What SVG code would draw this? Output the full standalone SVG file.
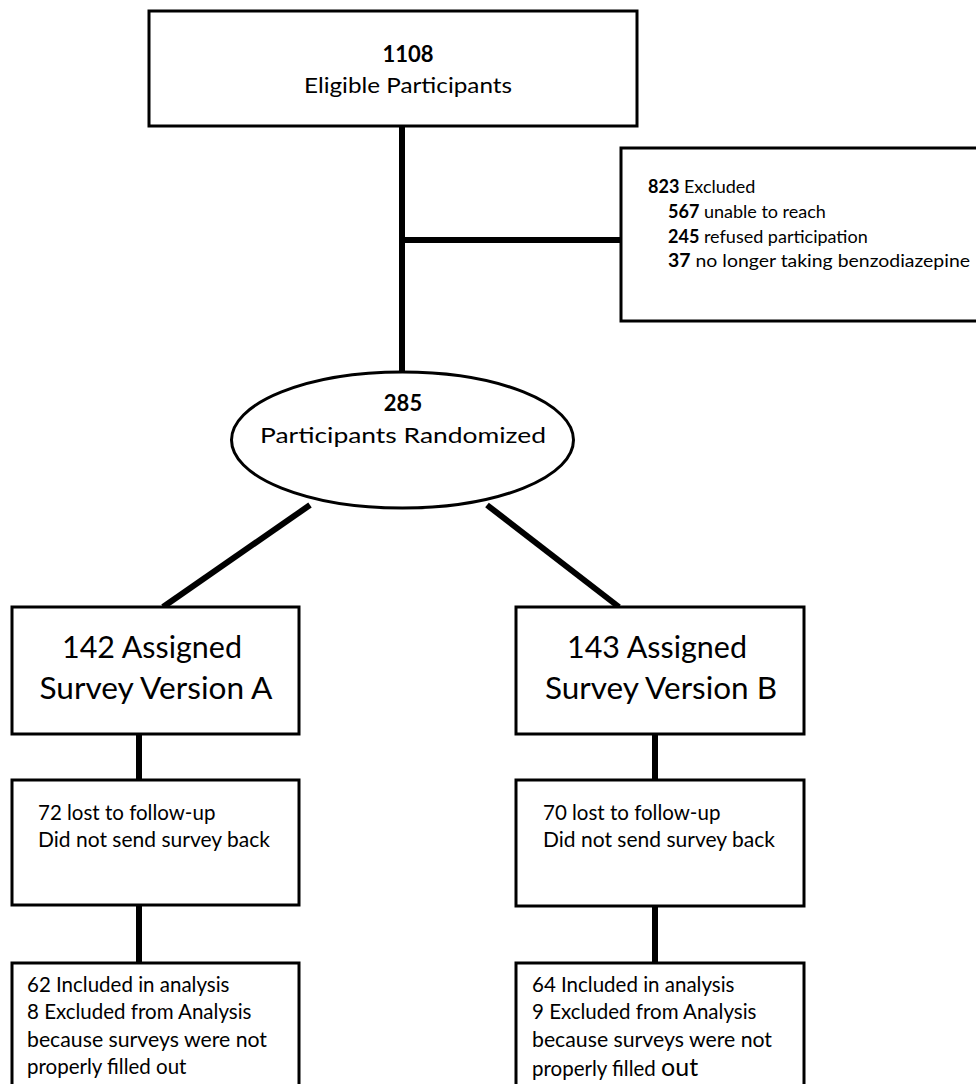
<svg xmlns="http://www.w3.org/2000/svg" width="976" height="1084" viewBox="0 0 976 1084">
<style>
.box{fill:#fff;stroke:#000;stroke-width:3}
.conn line{stroke:#000;stroke-width:6}
text{font-family:Lato,"Open Sans","Liberation Sans",sans-serif;fill:#000}
.b{font-weight:bold}
.m{font-size:22px}
.s{font-size:18px}
.t{font-size:20.5px}
.l{font-size:30px}
</style>
<rect width="976" height="1084" fill="#fff"/>
<g class="conn">
<line x1="402" y1="126" x2="402" y2="374"/>
<line x1="402" y1="240" x2="622" y2="240"/>
<line x1="310" y1="505" x2="163" y2="607"/>
<line x1="487" y1="505" x2="619" y2="607"/>
<line x1="139" y1="734" x2="139" y2="780"/>
<line x1="139" y1="905" x2="139" y2="963"/>
<line x1="655" y1="734" x2="655" y2="780"/>
<line x1="655" y1="906" x2="655" y2="963"/>
</g>
<g id="eligible">
<rect class="box" x="149" y="11" width="488" height="115"/>
<text class="m b" x="408" y="62" text-anchor="middle">1108</text>
<text class="m" x="408" y="93" text-anchor="middle" textLength="208" lengthAdjust="spacingAndGlyphs">Eligible Participants</text>
</g>
<g id="excluded">
<rect class="box" x="621" y="148" width="360" height="173"/>
<text class="s" x="648" y="193"><tspan class="b">823</tspan> Excluded</text>
<text class="s" x="668" y="218"><tspan class="b">567</tspan> unable to reach</text>
<text class="s" x="668" y="243"><tspan class="b">245</tspan> refused participation</text>
<text class="s" x="668" y="267" textLength="302" lengthAdjust="spacingAndGlyphs"><tspan class="b">37</tspan> no longer taking benzodiazepine</text>
</g>
<g id="randomized">
<ellipse class="box" cx="402.5" cy="440" rx="171" ry="68"/>
<text class="m b" x="403" y="411" text-anchor="middle">285</text>
<text class="m" x="403" y="443" text-anchor="middle" textLength="286" lengthAdjust="spacingAndGlyphs">Participants Randomized</text>
</g>
<g id="groupA">
<rect class="box" x="12" y="607" width="287" height="127"/>
<text class="l" x="152" y="658" text-anchor="middle" textLength="180" lengthAdjust="spacingAndGlyphs">142 Assigned</text>
<text class="l" x="156" y="699" text-anchor="middle" textLength="233" lengthAdjust="spacingAndGlyphs">Survey Version A</text>
</g>
<g id="groupB">
<rect class="box" x="516" y="607" width="288" height="127"/>
<text class="l" x="657" y="658" text-anchor="middle" textLength="180" lengthAdjust="spacingAndGlyphs">143 Assigned</text>
<text class="l" x="661" y="699" text-anchor="middle" textLength="232" lengthAdjust="spacingAndGlyphs">Survey Version B</text>
</g>
<g id="lostA">
<rect class="box" x="12" y="780" width="287" height="125"/>
<text class="t" x="38" y="820">72 lost to follow-up</text>
<text class="t" x="38" y="847" textLength="232" lengthAdjust="spacingAndGlyphs">Did not send survey back</text>
</g>
<g id="lostB">
<rect class="box" x="516" y="780" width="288" height="126"/>
<text class="t" x="543" y="820">70 lost to follow-up</text>
<text class="t" x="543" y="847" textLength="232" lengthAdjust="spacingAndGlyphs">Did not send survey back</text>
</g>
<g id="analysisA">
<rect class="box" x="12" y="963" width="287" height="140"/>
<text class="t" x="27" y="992">62 Included in analysis</text>
<text class="t" x="27" y="1019">8 Excluded from Analysis</text>
<text class="t" x="27" y="1047" textLength="240" lengthAdjust="spacingAndGlyphs">because surveys were not</text>
<text class="t" x="27" y="1074">properly filled out</text>
</g>
<g id="analysisB">
<rect class="box" x="516" y="963" width="288" height="140"/>
<text class="t" x="532" y="992">64 Included in analysis</text>
<text class="t" x="532" y="1019">9 Excluded from Analysis</text>
<text class="t" x="532" y="1047" textLength="240" lengthAdjust="spacingAndGlyphs">because surveys were not</text>
<text class="t" x="532" y="1076">properly filled <tspan font-size="25">out</tspan></text>
</g>
</svg>
